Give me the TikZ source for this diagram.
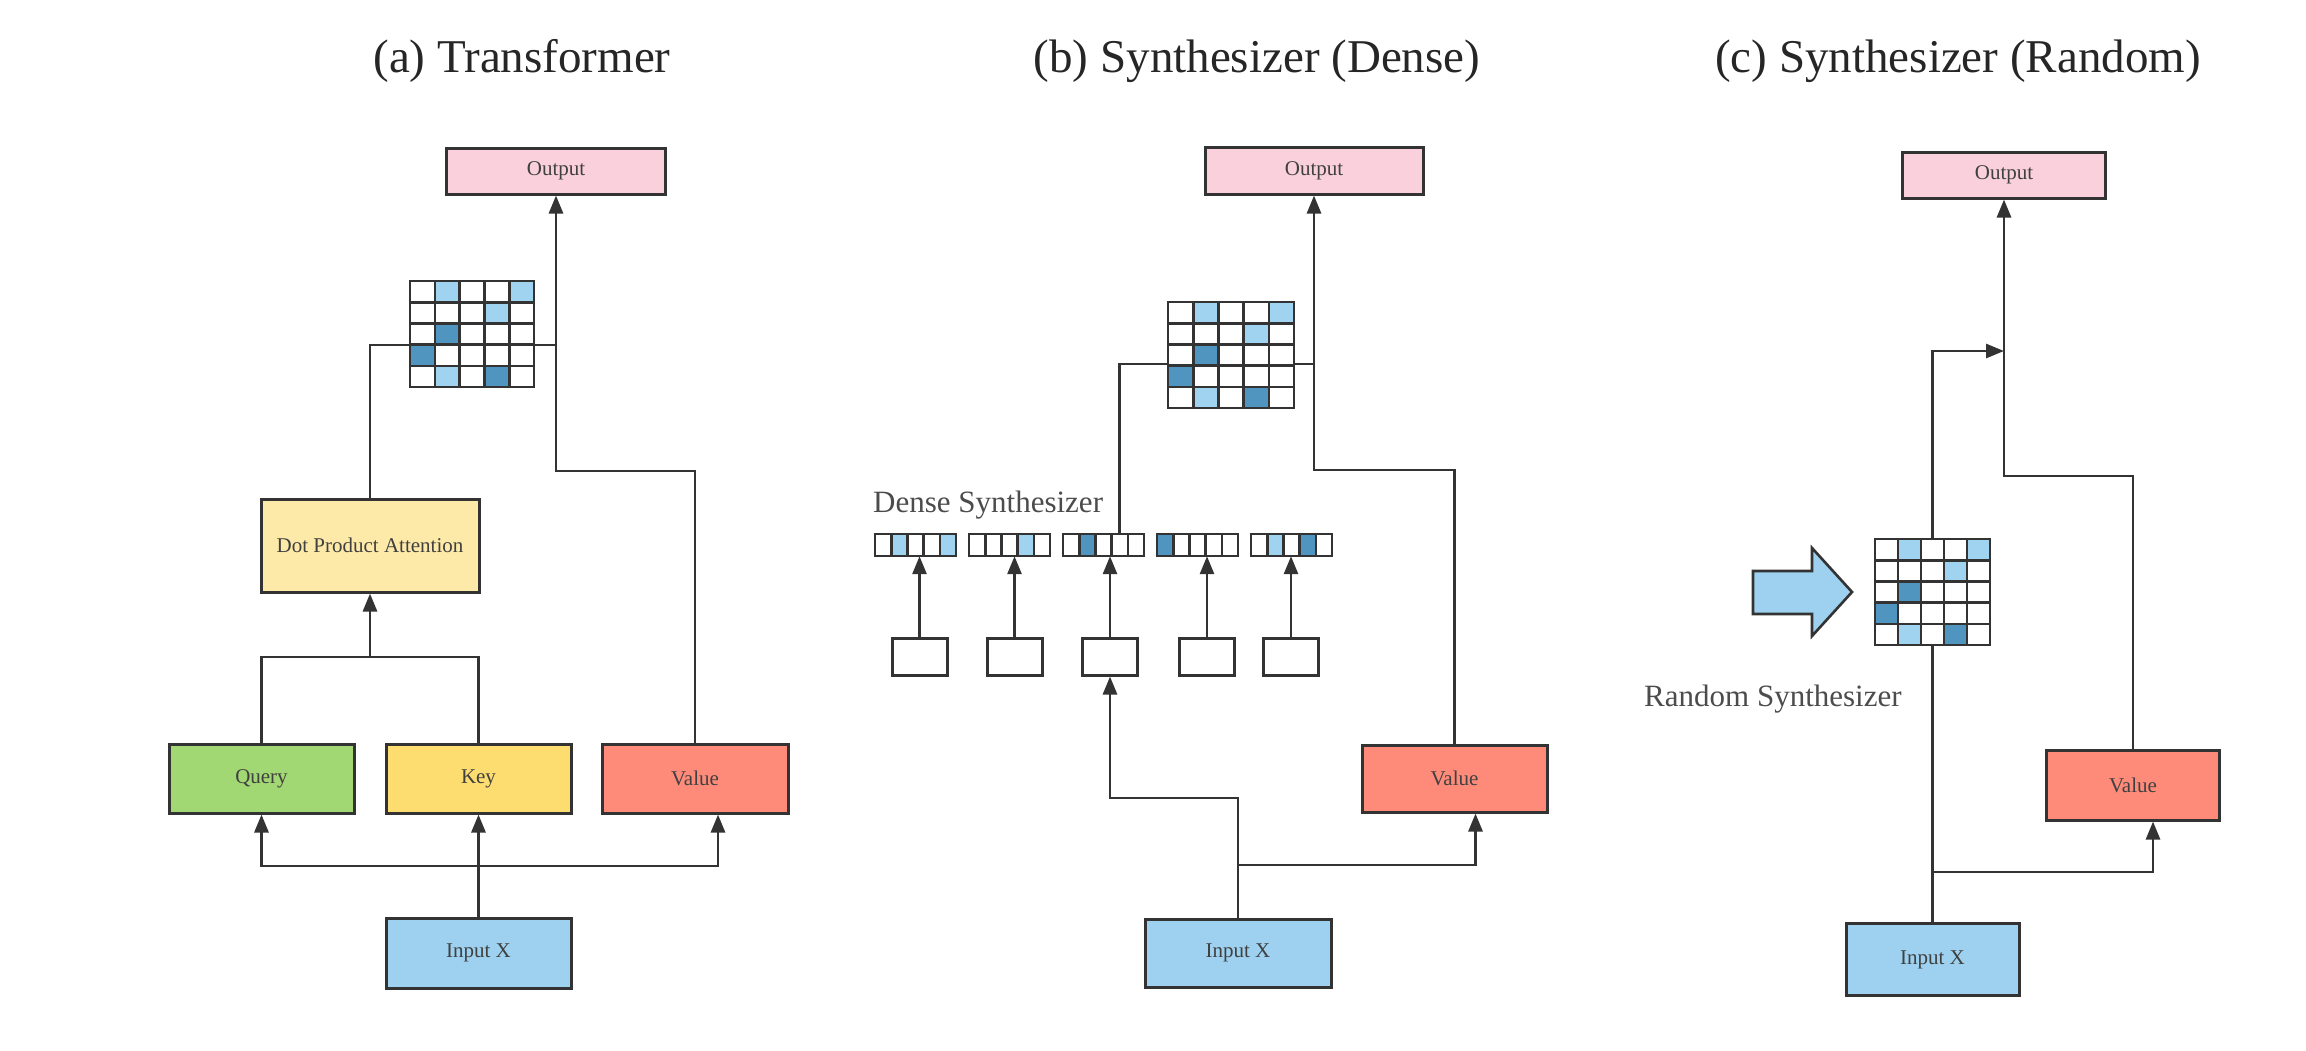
\documentclass[tikz,border=0pt]{standalone}
\usepackage{fontspec}
\setmainfont{Liberation Serif}
\usetikzlibrary{arrows.meta}
\definecolor{lc}{HTML}{333333}
\definecolor{outpink}{HTML}{F9D0DC}
\definecolor{dpay}{HTML}{FEEAA8}
\definecolor{qg}{HTML}{A2D873}
\definecolor{ky}{HTML}{FDDD6F}
\definecolor{vs}{HTML}{FE8B7A}
\definecolor{inb}{HTML}{9DD1EF}
\definecolor{cl}{HTML}{9FD3F0}
\definecolor{cd}{HTML}{4F95BF}
\definecolor{tx}{HTML}{404040}
\newcommand{\attgrid}[4]{%
 \fill[white] (#1,#2) rectangle ({#1+5*#3},{#2+5*#4});
 \foreach \r/\c in {1/2,1/5,2/4,5/2}{\fill[cl] ({#1+(\c-1)*#3},{#2+(\r-1)*#4}) rectangle ++(#3,#4);}
 \foreach \r/\c in {3/2,4/1,5/4}{\fill[cd] ({#1+(\c-1)*#3},{#2+(\r-1)*#4}) rectangle ++(#3,#4);}
 \foreach \i in {0,...,5}{\draw[gridl] ({#1+\i*#3},#2) -- ++(0,{5*#4}); \draw[gridl] (#1,{#2+\i*#4}) -- ++({5*#3},0);}
}
\newcommand{\vcell}[4]{\fill[#4] ({#1+(#3-1)*16.2},#2) rectangle ++(16.2,22);}
\newcommand{\vback}[2]{\fill[white] (#1,#2) rectangle ++(81,22);}
\newcommand{\dvec}[2]{%
 \foreach \i in {0,...,5}{\draw[gridl] ({#1+\i*16.2},#2) -- ++(0,22);}
 \draw[gridl] (#1,#2) -- ++(81,0) (#1,{#2+22}) -- ++(81,0);}
\begin{document}
\begin{tikzpicture}[x=1pt,y=-1pt,
  box/.style={draw=lc, line width=3pt, inner sep=0pt, text=tx, font=\fontsize{21}{24}\selectfont},
  sbox/.style={draw=lc, line width=3pt, fill=white, inner sep=0pt, minimum width=55pt, minimum height=37pt},
  ghost/.style={draw=none, inner sep=0pt},
  conn/.style={draw=lc, line width=2.8pt},
  arr/.style={conn, -{Triangle[length=18pt,width=14pt]}},
  gridl/.style={draw=lc, line width=2.6pt, line cap=rect},
  title/.style={font=\fontsize{47}{56}\selectfont, text=black!85, inner sep=0pt},
  side/.style={font=\fontsize{31}{36}\selectfont, text=black!70, inner sep=0pt}]
\useasboundingbox[fill=white] (0,0) rectangle (2306,1050);

% titles
\node[title, anchor=base] (ta) at (522,72) {(a) Transformer};
\node[title, anchor=base] (tb) at (1257,72) {(b) Synthesizer (Dense)};
\node[title, anchor=base] (tc) at (1958,72) {(c) Synthesizer (Random)};

% ---------------- panel (a)
\node[box, fill=outpink, minimum width=219pt, minimum height=46pt] (oa) at (556,171) {Output};
\node[box, fill=dpay, minimum width=218pt, minimum height=93pt] (dpa) at (370,545.5) {Dot Product Attention};
\node[box, fill=qg, minimum width=185pt, minimum height=69pt] (qa) at (261.5,778.5) {Query};
\node[box, fill=ky, minimum width=185pt, minimum height=69pt] (ka) at (478.5,778.5) {Key};
\node[box, fill=vs, minimum width=186pt, minimum height=69pt] (va) at (695,778.5) {Value};
\node[box, fill=inb, minimum width=185pt, minimum height=70pt] (ia) at (478.5,953) {Input X};
\node[ghost, minimum width=124pt, minimum height=106pt] (ma) at (472,334) {};
\coordinate (jqk) at (370,657);
\coordinate (jma) at (556,345);
\coordinate (tva) at (695,471);
\coordinate (ba) at (478.5,866);

\draw[conn] (qa.north) |- (jqk) -| (ka.north);
\draw[arr] (jqk) -- (dpa.south);
\draw[conn] (dpa.north) |- (jma);
\draw[arr] (va.north) |- (tva) -| (oa.south);
\draw[conn] (ia.north) -- (ba);
\draw[arr] (ba) -| (qa.south);
\draw[arr] (ba) -- (ka.south);
\draw[arr] (ba) -| ([xshift=23pt]va.south);
\attgrid{410}{281}{24.8}{21.2}

% ---------------- panel (b)
\node[box, fill=outpink, minimum width=218pt, minimum height=47pt] (ob) at (1314,170.5) {Output};
\node[ghost, minimum width=126pt, minimum height=106pt] (mb) at (1231,355) {};
\node[side, anchor=base west] (ds) at (873,512) {Dense Synthesizer};
\foreach \n/\x in {1/875,2/969,3/1063,4/1157,5/1251}{
  \node[ghost, minimum width=81pt, minimum height=22pt] (v\n) at (\x+40.5,545) {};}
\foreach \n/\x in {1/919.5,2/1014.5,3/1110,4/1207,5/1291}{
  \node[sbox] (s\n) at (\x,656.5) {};}
\node[box, fill=vs, minimum width=185pt, minimum height=67pt] (vb) at (1454.5,778.5) {Value};
\node[box, fill=inb, minimum width=186pt, minimum height=68pt] (ib) at (1238,953) {Input X};
\coordinate (jmb) at (1314,364);
\coordinate (tvb) at (1454.5,470);
\coordinate (tib) at (1238,798);
\coordinate (bb) at (1238,865);

\foreach \n in {1,...,5}{\draw[arr] (s\n.north) -- (s\n.north |- v\n.south);}
\draw[conn] ([xshift=16pt]v3.north) |- (jmb);
\draw[arr] (vb.north) |- (tvb) -| (ob.south);
\draw[arr] (ib.north) -- (tib) -| (s3.south);
\draw[arr] (bb) -| ([xshift=21pt]vb.south);
\attgrid{1168}{302}{25.2}{21.2}
\vback{875}{534}\vback{969}{534}\vback{1063}{534}\vback{1157}{534}\vback{1251}{534}
\vcell{875}{534}{2}{cl}\vcell{875}{534}{5}{cl}
\vcell{969}{534}{4}{cl}
\vcell{1063}{534}{2}{cd}
\vcell{1157}{534}{1}{cd}
\vcell{1251}{534}{2}{cl}\vcell{1251}{534}{4}{cd}
\dvec{875}{534}\dvec{969}{534}\dvec{1063}{534}\dvec{1157}{534}\dvec{1251}{534}

% ---------------- panel (c)
\node[box, fill=outpink, minimum width=203pt, minimum height=46pt] (oc) at (2004,175) {Output};
\node[ghost, minimum width=115pt, minimum height=106pt] (mc) at (1932.5,592) {};
\node[side, anchor=base west] (rs) at (1644,706) {Random Synthesizer};
\node[box, fill=vs, minimum width=173pt, minimum height=70pt] (vc) at (2133,785) {Value};
\node[box, fill=inb, minimum width=173pt, minimum height=72pt] (ic) at (1932.5,959.5) {Input X};
\coordinate (jc) at (2004,351);
\coordinate (tvc) at (2133,476);
\coordinate (bc) at (1932.5,872);

\draw[conn] (ic.north) -- (mc.south);
\draw[arr] (mc.north) |- (jc);
\draw[arr] (vc.north) |- (tvc) -| (oc.south);
\draw[arr] (bc) -| ([xshift=20pt]vc.south);
\attgrid{1875}{539}{23}{21.2}
\draw[draw=lc, line width=2.6pt, fill=inb, line join=miter]
  (1753,571) -- (1812,571) -- (1812,548) -- (1852,592) -- (1812,636) -- (1812,614) -- (1753,614) -- cycle;
\end{tikzpicture}
\end{document}
